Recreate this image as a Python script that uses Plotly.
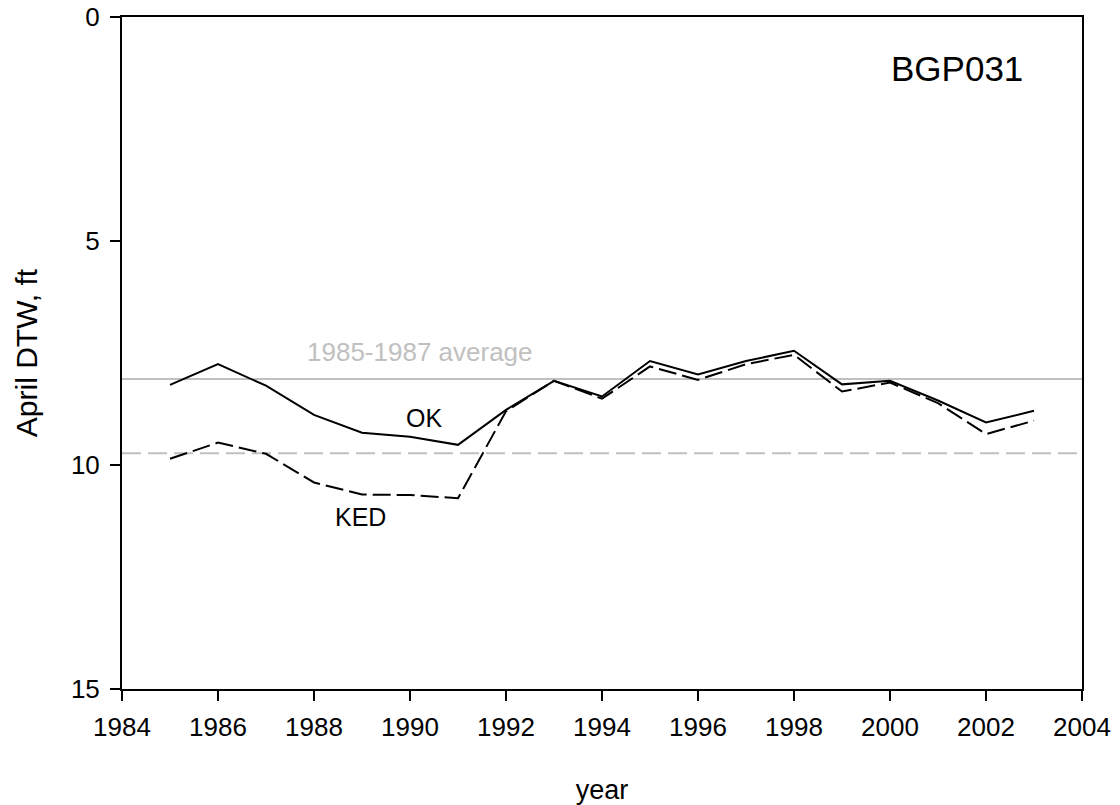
import plotly.graph_objects as go

years = list(range(1985, 2004))
ok_dtw = [8.21, 7.75, 8.23, 8.88, 9.28, 9.37, 9.55, 8.77, 8.12, 8.47, 7.68, 7.98,
          7.68, 7.45, 8.20, 8.12, 8.56, 9.05, 8.79]
ked_dtw = [9.86, 9.50, 9.75, 10.39, 10.66, 10.67, 10.74, 8.80, 8.12, 8.52, 7.80, 8.10,
           7.75, 7.54, 8.36, 8.16, 8.62, 9.31, 9.01]
ok_avg = 8.08
ked_avg = 9.74
x_ticks = [1984, 1986, 1988, 1990, 1992, 1994, 1996, 1998, 2000, 2002, 2004]
y_ticks = [0, 5, 10, 15]

FONT = "Liberation Sans, Arial, sans-serif"
GRAY = "#c0c0c0"

fig = go.Figure()
fig.add_trace(go.Scatter(x=years, y=ok_dtw, mode="lines", name="OK",
                         line=dict(color="black", width=2)))
fig.add_trace(go.Scatter(x=years, y=ked_dtw, mode="lines", name="KED",
                         line=dict(color="black", width=2, dash="18px,6px")))

fig.add_shape(type="line", xref="paper", x0=0, x1=1, yref="y", y0=ok_avg, y1=ok_avg,
              line=dict(color=GRAY, width=2), layer="below")
fig.add_shape(type="line", xref="paper", x0=0, x1=1, yref="y", y0=ked_avg, y1=ked_avg,
              line=dict(color=GRAY, width=2, dash="19px,7px"), layer="below")

fig.add_annotation(x=2001.4, y=1.15, text="BGP031", showarrow=False,
                   font=dict(family=FONT, size=35, color="black"))
fig.add_annotation(x=1987.82, y=7.48, text="1985-1987 average", showarrow=False,
                   xanchor="left", font=dict(family=FONT, size=26, color=GRAY))
fig.add_annotation(x=1990.29, y=8.96, text="OK", showarrow=False,
                   font=dict(family=FONT, size=25, color="black"))
fig.add_annotation(x=1988.96, y=11.16, text="KED", showarrow=False,
                   font=dict(family=FONT, size=25, color="black"))

fig.update_layout(
    width=1120, height=805,
    margin=dict(l=122, r=38, t=17, b=116),
    paper_bgcolor="white", plot_bgcolor="white",
    showlegend=False,
    font=dict(family=FONT, size=26, color="black"),
)
fig.update_xaxes(range=[1984, 2004], tickvals=x_ticks, ticks="outside", ticklen=10,
                 tickwidth=2, tickcolor="black", showline=True, linecolor="black",
                 linewidth=2, mirror=True, showgrid=False, zeroline=False,
                 automargin=False, ticklabeloverflow="allow",
                 tickfont=dict(size=26), ticklabelstandoff=4,
                 title=dict(text="year", font=dict(size=27), standoff=39))
fig.update_yaxes(range=[15, 0], tickvals=y_ticks, ticks="outside", ticklen=10,
                 tickwidth=2, tickcolor="black", showline=True, linecolor="black",
                 linewidth=2, mirror=True, showgrid=False, zeroline=False,
                 automargin=False, ticklabeloverflow="allow",
                 tickfont=dict(size=26), ticklabelstandoff=5,
                 title=dict(text="April DTW, ft", font=dict(size=30), standoff=24))

fig.write_html("out.html", config={"displayModeBar": False},
               post_script="document.body.style.margin='0';document.body.style.overflow='hidden';")
